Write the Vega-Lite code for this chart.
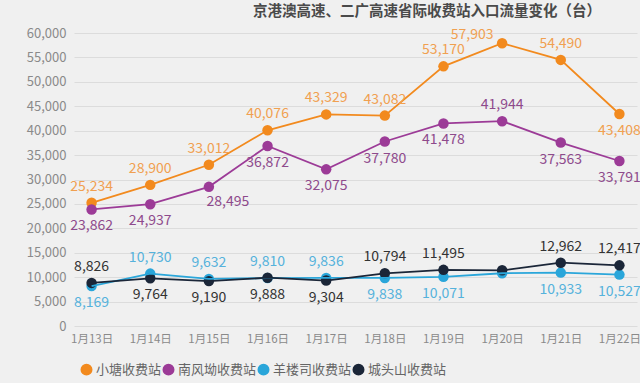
{
  "$schema": "https://vega.github.io/schema/vega-lite/v6.json",
  "autosize": {"type": "none"},
  "padding": {"left": 74, "top": 33, "right": 3, "bottom": 57},
  "width": 563,
  "height": 293,
  "background": "#f0f0f0",
  "config": {
    "font": "Noto Sans CJK SC",
    "view": {"stroke": null},
    "axis": {"labelFont": "Noto Sans CJK SC", "labelColor": "#8a8a8a"}
  },
  "title": {
    "text": "京港澳高速、二广高速省际收费站入口流量变化（台）",
    "anchor": "start",
    "frame": "group",
    "fontSize": 14.5,
    "fontWeight": "bold",
    "color": "#4a4a4a",
    "offset": 8,
    "dx": 179
  },
  "data": {
    "values": [
      {"date": "1月13日", "station": "小塘收费站", "value": 25234},
      {"date": "1月14日", "station": "小塘收费站", "value": 28900},
      {"date": "1月15日", "station": "小塘收费站", "value": 33012},
      {"date": "1月16日", "station": "小塘收费站", "value": 40076},
      {"date": "1月17日", "station": "小塘收费站", "value": 43329},
      {"date": "1月18日", "station": "小塘收费站", "value": 43082},
      {"date": "1月19日", "station": "小塘收费站", "value": 53170},
      {"date": "1月20日", "station": "小塘收费站", "value": 57903},
      {"date": "1月21日", "station": "小塘收费站", "value": 54490},
      {"date": "1月22日", "station": "小塘收费站", "value": 43408},
      {"date": "1月13日", "station": "南风坳收费站", "value": 23862},
      {"date": "1月14日", "station": "南风坳收费站", "value": 24937},
      {"date": "1月15日", "station": "南风坳收费站", "value": 28495},
      {"date": "1月16日", "station": "南风坳收费站", "value": 36872},
      {"date": "1月17日", "station": "南风坳收费站", "value": 32075},
      {"date": "1月18日", "station": "南风坳收费站", "value": 37780},
      {"date": "1月19日", "station": "南风坳收费站", "value": 41478},
      {"date": "1月20日", "station": "南风坳收费站", "value": 41944},
      {"date": "1月21日", "station": "南风坳收费站", "value": 37563},
      {"date": "1月22日", "station": "南风坳收费站", "value": 33791},
      {"date": "1月13日", "station": "羊楼司收费站", "value": 8169},
      {"date": "1月14日", "station": "羊楼司收费站", "value": 10730},
      {"date": "1月15日", "station": "羊楼司收费站", "value": 9632},
      {"date": "1月16日", "station": "羊楼司收费站", "value": 9810},
      {"date": "1月17日", "station": "羊楼司收费站", "value": 9836},
      {"date": "1月18日", "station": "羊楼司收费站", "value": 9838},
      {"date": "1月19日", "station": "羊楼司收费站", "value": 10071},
      {"date": "1月20日", "station": "羊楼司收费站", "value": 10800},
      {"date": "1月21日", "station": "羊楼司收费站", "value": 10933},
      {"date": "1月22日", "station": "羊楼司收费站", "value": 10527},
      {"date": "1月13日", "station": "城头山收费站", "value": 8826},
      {"date": "1月14日", "station": "城头山收费站", "value": 9764},
      {"date": "1月15日", "station": "城头山收费站", "value": 9190},
      {"date": "1月16日", "station": "城头山收费站", "value": 9888},
      {"date": "1月17日", "station": "城头山收费站", "value": 9304},
      {"date": "1月18日", "station": "城头山收费站", "value": 10794},
      {"date": "1月19日", "station": "城头山收费站", "value": 11495},
      {"date": "1月20日", "station": "城头山收费站", "value": 11400},
      {"date": "1月21日", "station": "城头山收费站", "value": 12962},
      {"date": "1月22日", "station": "城头山收费站", "value": 12417}
    ]
  },
  "encoding": {
    "x": {
      "field": "date",
      "type": "ordinal",
      "sort": null,
      "scale": {"type": "point", "padding": 0.3},
      "axis": {"title": null, "labelAngle": 0, "ticks": false, "domain": false, "labelFontSize": 11.5, "labelPadding": 7}
    },
    "y": {
      "field": "value",
      "type": "quantitative",
      "scale": {"domain": [0, 60000]},
      "axis": {"title": null, "values": [0,5000,10000,15000,20000,25000,30000,35000,40000,45000,50000,55000,60000], "labelOverlap": false, "format": ",d", "ticks": false, "domain": false, "labelFontSize": 13, "labelPadding": 8, "gridColor": "#dcdcdc", "gridWidth": 1}
    }
  },
  "layer": [
    {
      "layer": [
        {
          "mark": {"type": "point", "filled": true, "size": 110, "opacity": 1},
          "encoding": {
            "color": {
              "field": "station",
              "type": "nominal",
              "sort": null,
              "scale": {"domain": ["小塘收费站", "南风坳收费站", "羊楼司收费站", "城头山收费站"], "range": ["#f28a1e", "#9c3b97", "#2aa6da", "#1b2638"]},
              "legend": {
                "title": null,
                "orient": "none",
                "direction": "horizontal",
                "legendX": 6,
                "legendY": 330,
                "symbolType": "circle",
                "symbolSize": 110,
                "symbolOpacity": 1,
                "labelFontSize": 13,
                "labelColor": "#666666",
                "columnPadding": -6,
                "labelOffset": 3
              }
            }
          }
        },
        {
          "mark": {"type": "line", "strokeWidth": 1.8},
          "encoding": {
            "color": {
              "field": "station",
              "type": "nominal",
              "sort": null,
              "scale": {"domain": ["小塘收费站", "南风坳收费站", "羊楼司收费站", "城头山收费站"], "range": ["#f28a1e", "#9c3b97", "#2aa6da", "#1b2638"]},
              "legend": {
                "title": null,
                "orient": "none",
                "direction": "horizontal",
                "legendX": 6,
                "legendY": 330,
                "symbolType": "circle",
                "symbolSize": 110,
                "symbolOpacity": 1,
                "labelFontSize": 13,
                "labelColor": "#666666",
                "columnPadding": -6,
                "labelOffset": 3
              }
            }
          }
        }
      ]
    },
    {
      "transform": [{"filter": "(datum.station == '小塘收费站' && datum.date != '1月22日' && datum.date != '1月20日') || (datum.station == '南风坳收费站' && datum.date == '1月20日') || (datum.station == '羊楼司收费站' && indexof(['1月14日','1月15日','1月16日','1月17日'], datum.date) >= 0) || (datum.station == '城头山收费站' && indexof(['1月13日','1月18日','1月19日','1月21日','1月22日'], datum.date) >= 0)"}],
      "mark": {"type": "text", "dy": -16, "fontSize": 14},
      "encoding": {
        "text": {"field": "value", "type": "quantitative", "format": ","},
        "color": {"field": "station", "type": "nominal", "scale": {"domain": ["小塘收费站", "南风坳收费站", "羊楼司收费站", "城头山收费站"], "range": ["#f0a050", "#8e4a8c", "#55b2dc", "#333333"]}, "legend": null}
      }
    },
    {
      "transform": [{"filter": "(datum.station == '小塘收费站' && datum.date == '1月22日') || (datum.station == '南风坳收费站' && datum.date != '1月20日' && datum.date != '1月15日') || (datum.station == '羊楼司收费站' && indexof(['1月13日','1月18日','1月19日','1月21日','1月22日'], datum.date) >= 0) || (datum.station == '城头山收费站' && indexof(['1月14日','1月15日','1月16日','1月17日'], datum.date) >= 0)"}],
      "mark": {"type": "text", "dy": 17, "fontSize": 14},
      "encoding": {
        "text": {"field": "value", "type": "quantitative", "format": ","},
        "color": {"field": "station", "type": "nominal", "scale": {"domain": ["小塘收费站", "南风坳收费站", "羊楼司收费站", "城头山收费站"], "range": ["#f0a050", "#8e4a8c", "#55b2dc", "#333333"]}, "legend": null}
      }
    },
    {
      "transform": [{"filter": "datum.station == '小塘收费站' && datum.date == '1月20日'"}],
      "mark": {"type": "text", "dy": -8, "dx": -30, "fontSize": 14},
      "encoding": {
        "text": {"field": "value", "type": "quantitative", "format": ","},
        "color": {"value": "#f0a050"}
      }
    },
    {
      "transform": [{"filter": "datum.station == '南风坳收费站' && datum.date == '1月15日'"}],
      "mark": {"type": "text", "dy": 15, "dx": 19, "fontSize": 14},
      "encoding": {
        "text": {"field": "value", "type": "quantitative", "format": ","},
        "color": {"value": "#8e4a8c"}
      }
    }
  ],
  "resolve": {"scale": {"color": "independent"}}
}
